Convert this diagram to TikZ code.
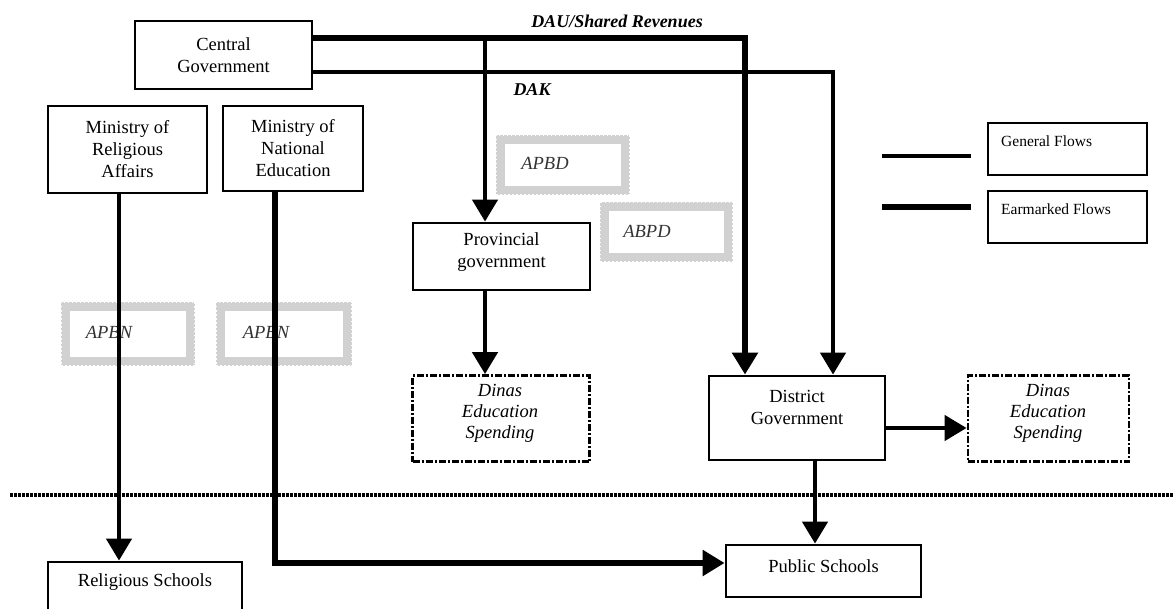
\documentclass[tikz,border=0pt]{standalone}
\usepackage{fontspec}
\setmainfont{Liberation Serif}
\usetikzlibrary{arrows.meta}
\begin{document}
\begin{tikzpicture}[x=1pt,y=-1pt,
  box/.style={draw,line width=2.8pt,rectangle,inner sep=0pt,font=\fontsize{18.5}{22}\selectfont,align=center},
  txt/.style={font=\fontsize{18.5}{22}\selectfont,align=center,inner sep=0pt},
  itxt/.style={font=\fontsize{18.5}{21}\selectfont\itshape,align=center,inner sep=0pt},
  lgtxt/.style={font=\fontsize{15.5}{18}\selectfont,inner sep=0pt,anchor=west},
  dinasbox/.style={draw,line width=2.8pt,dash pattern=on 7pt off 2pt on 2pt off 2pt,rectangle,inner sep=0pt},
  budgetframe/.style={draw=black!18,line width=9pt,rectangle,inner sep=0pt},
  budgetticks/.style={draw=white,line width=1.3pt,dash pattern=on 1.5pt off 2.5pt},
  budgettxt/.style={font=\fontsize{18.5}{20}\selectfont\itshape,text=black!80,inner sep=0pt},
  flowthick/.style={line width=6pt},
  flowthin/.style={line width=4.5pt},
  arr/.style={-{Triangle[length=22pt,width=25pt]}},
  dotline/.style={line width=3.5pt,dash pattern=on 2.5pt off 1.5pt}
]
\useasboundingbox[fill=white] (0,0) rectangle (1174,609);

% budget frames (gray decorative)
\foreach \nm/\xa/\ya/\xb/\yb in {apbnA/61/302/195/366, apbnB/216/302/352/366, apbd/496/135/630/195, abpd/600/202/733/262}{
  \node[budgetframe,minimum width={\xb-\xa-9},minimum height={\yb-\ya-9}] (\nm) at ({(\xa+\xb)/2},{(\ya+\yb)/2}) {};
  \draw[budgetticks] (\nm.north west) rectangle (\nm.south east);
}
\node[budgettxt] (apbnAt) at (109,332) {APBN};
\node[budgettxt] (apbnBt) at (266,332) {APBN};
\node[budgettxt] (apbdt) at (545,163) {APBD};
\node[budgettxt] (abpdt) at (647,231) {ABPD};

% main boxes
\node[box,minimum width=177,minimum height=68] (central) at (223.5,55) {Central\\Government};
\node[box,minimum width=159,minimum height=87] (minrel) at (127.5,149.5) {Ministry of\\Religious\\Affairs};
\node[box,minimum width=140,minimum height=85] (minnat) at (293,148.5) {Ministry of\\National\\Education};
\node[box,minimum width=177,minimum height=67] (prov) at (501.5,256.5) {};
\node[txt] (provt) at (501.5,252) {Provincial\\government};
\node[box,minimum width=176,minimum height=84] (district) at (797,418) {};
\node[txt] (districtt) at (797,407) {District\\Government};
\node[dinasbox,minimum width=177,minimum height=86] (dinasL) at (501,418.5) {};
\node[itxt] (dinasLt) at (500,413) {Dinas\\Education\\Spending};
\node[dinasbox,minimum width=161,minimum height=86] (dinasR) at (1048.5,418.5) {};
\node[itxt] (dinasRt) at (1048,413) {Dinas\\Education\\Spending};
\node[box,minimum width=195,minimum height=52] (public) at (823.5,571) {};
\node[txt] (publict) at (823.5,566) {Public Schools};
\node[box,minimum width=194,minimum height=52] (relsch) at (145,588) {};
\node[txt] (relscht) at (145,582) {Religious Schools};

% legend
\node[box,minimum width=159,minimum height=52] (lg1) at (1067.5,149) {};
\node[lgtxt] (lg1t) at (1001,141) {General Flows};
\node[box,minimum width=159,minimum height=52] (lg2) at (1067.5,217) {};
\node[lgtxt] (lg2t) at (1001,209) {Earmarked Flows};
\coordinate (lgA1) at (882,156);
\coordinate (lgA2) at (971,156);
\coordinate (lgB1) at (882,207);
\coordinate (lgB2) at (971,207);
\draw[line width=3.5pt] (lgA1) -- (lgA2);
\draw[line width=5.5pt] (lgB1) -- (lgB2);

% labels
\node[font=\fontsize{18}{20}\selectfont\bfseries\itshape,inner sep=0pt] (daulbl) at (617,21) {DAU/Shared Revenues};
\node[font=\fontsize{18}{20}\selectfont\bfseries\itshape,inner sep=0pt] (daklbl) at (532,90) {DAK};

% helper coordinates
\coordinate (dauy) at (0,38);
\coordinate (daky) at (0,72);
\coordinate (brx) at (485,0);
\coordinate (daux) at (745,0);
\coordinate (dakx) at (833,0);
\coordinate (relx) at (119,0);
\coordinate (natx) at (275,0);
\coordinate (puby) at (0,563);
\coordinate (dinry) at (0,428);
\coordinate (distx) at (815,0);
\coordinate (dotL) at (10,495);
\coordinate (dotR) at (1174,495);

% dotted boundary
\draw[dotline] (dotL) -- (dotR);

% flows
\draw[flowthick,arr,line join=miter] (central.east |- dauy) -- (daux |- dauy) -- (district.north -| daux);
\draw[flowthin,arr] (brx |- dauy) -- (prov.north -| brx);
\draw[flowthin,arr,line join=miter] (central.east |- daky) -- (dakx |- daky) -- (district.north -| dakx);
\draw[flowthin,arr] (prov.south -| brx) -- (dinasL.north -| brx);
\draw[flowthin,arr] (district.east |- dinry) -- (dinasR.west |- dinry);
\draw[flowthin,arr] (district.south -| distx) -- (public.north -| distx);
\draw[flowthin,arr] (minrel.south -| relx) -- (relsch.north -| relx);
\draw[flowthick,arr,line join=miter] (minnat.south -| natx) -- (natx |- puby) -- (public.west |- puby);
\end{tikzpicture}
\end{document}
